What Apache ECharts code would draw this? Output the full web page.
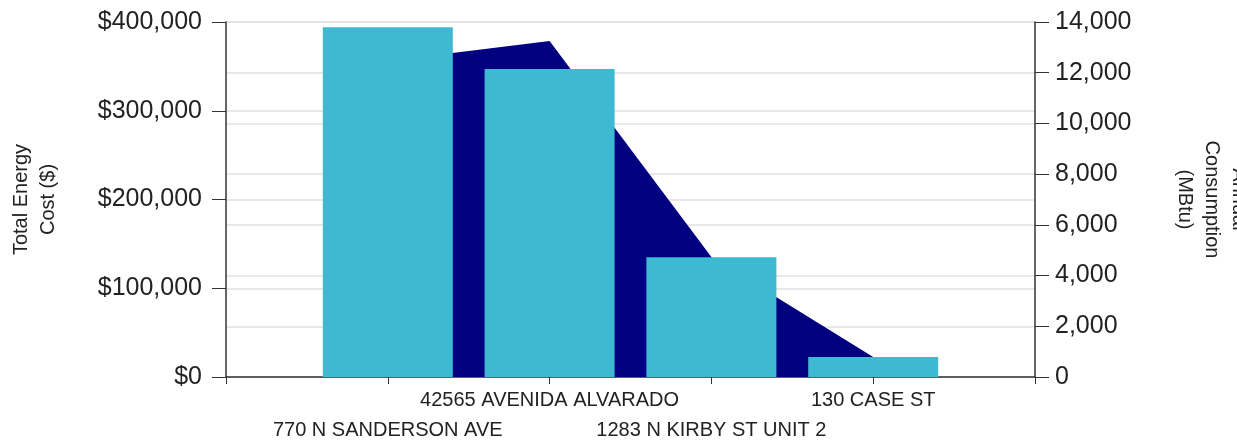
<!DOCTYPE html>
<html>
<head>
<meta charset="utf-8">
<script src="https://cdn.jsdelivr.net/npm/echarts@6/dist/echarts.min.js"></script>
<style>
html,body{margin:0;padding:0;background:#fff;}
#chart{width:1237px;height:443px;}
</style>
</head>
<body>
<div id="chart"></div>
<script>
const categories = ['770 N SANDERSON AVE', '42565 AVENIDA ALVARADO', '1283 N KIRBY ST UNIT 2', '130 CASE ST'];
const totalCost = [394000, 347000, 135000, 22500];
const consumption = [12460, 13250, 4730, 790];
const costTicks = [0, 100000, 200000, 300000, 400000];
const consTicks = [0, 2000, 4000, 6000, 8000, 10000, 12000, 14000];

const axisCats = [''].concat(categories, ['']);
const padded = arr => [null].concat(arr, [null]);
const fmt = n => n.toLocaleString('en-US');
const FONT = 'Liberation Sans, Arial, sans-serif';
const axisColor = '#333';

const chart = echarts.init(document.getElementById('chart'), null, {renderer: 'canvas'});
chart.setOption({
  animation: false,
  backgroundColor: '#fff',
  grid: {left: 226, right: 202, top: 22, bottom: 66, containLabel: false, outerBoundsMode: 'none'},
  xAxis: {
    type: 'category',
    data: axisCats,
    boundaryGap: false,
    axisLine: {lineStyle: {color: axisColor, width: 1.5}},
    axisTick: {show: true, length: 7, interval: 0, lineStyle: {color: axisColor}},
    axisLabel: {
      interval: 0,
      hideOverlap: false,
      margin: 8,
      fontFamily: FONT,
      fontSize: 20,
      color: '#222',
      lineHeight: 30,
      formatter: (v, i) => (v === '' ? '' : (i % 2 === 1 ? '\n' + v : v))
    },
    splitLine: {show: false}
  },
  yAxis: [
    {
      type: 'value',
      min: costTicks[0],
      max: costTicks[costTicks.length - 1],
      interval: costTicks[1] - costTicks[0],
      position: 'left',
      name: 'Total Energy\nCost ($)',
      nameLocation: 'middle',
      nameRotate: 90,
      nameGap: 164,
      nameMoveOverlap: false,
      nameTextStyle: {fontFamily: FONT, fontSize: 20, color: '#222', lineHeight: 27},
      axisLine: {show: true, lineStyle: {color: axisColor, width: 1.5}},
      axisTick: {show: true, length: 14, lineStyle: {color: axisColor}},
      axisLabel: {margin: 24, fontFamily: FONT, fontSize: 25, color: '#222', formatter: v => '$' + fmt(v)},
      splitLine: {show: true, lineStyle: {color: '#e0e0e0', width: 1.5}}
    },
    {
      type: 'value',
      min: consTicks[0],
      max: consTicks[consTicks.length - 1],
      interval: consTicks[1] - consTicks[0],
      position: 'right',
      name: 'Annual\nConsumption\n(MBtu)',
      nameLocation: 'middle',
      nameRotate: -90,
      nameGap: 136,
      nameMoveOverlap: false,
      nameTextStyle: {fontFamily: FONT, fontSize: 20, color: '#222', lineHeight: 27},
      axisLine: {show: true, lineStyle: {color: axisColor, width: 1.5}},
      axisTick: {show: true, length: 14, lineStyle: {color: axisColor}},
      axisLabel: {margin: 20, fontFamily: FONT, fontSize: 25, color: '#222', formatter: v => fmt(v)},
      splitLine: {show: true, lineStyle: {color: '#e0e0e0', width: 1.5}}
    }
  ],
  series: [
    {
      name: 'Annual Consumption',
      type: 'line',
      yAxisIndex: 1,
      data: padded(consumption),
      symbol: 'none',
      lineStyle: {width: 0, color: '#000080'},
      areaStyle: {color: '#000080', opacity: 1},
      z: 1
    },
    {
      name: 'Total Energy Cost',
      type: 'bar',
      yAxisIndex: 0,
      data: padded(totalCost),
      barWidth: 130,
      itemStyle: {color: '#3FB8D1'},
      z: 2
    }
  ]
});
</script>
</body>
</html>
